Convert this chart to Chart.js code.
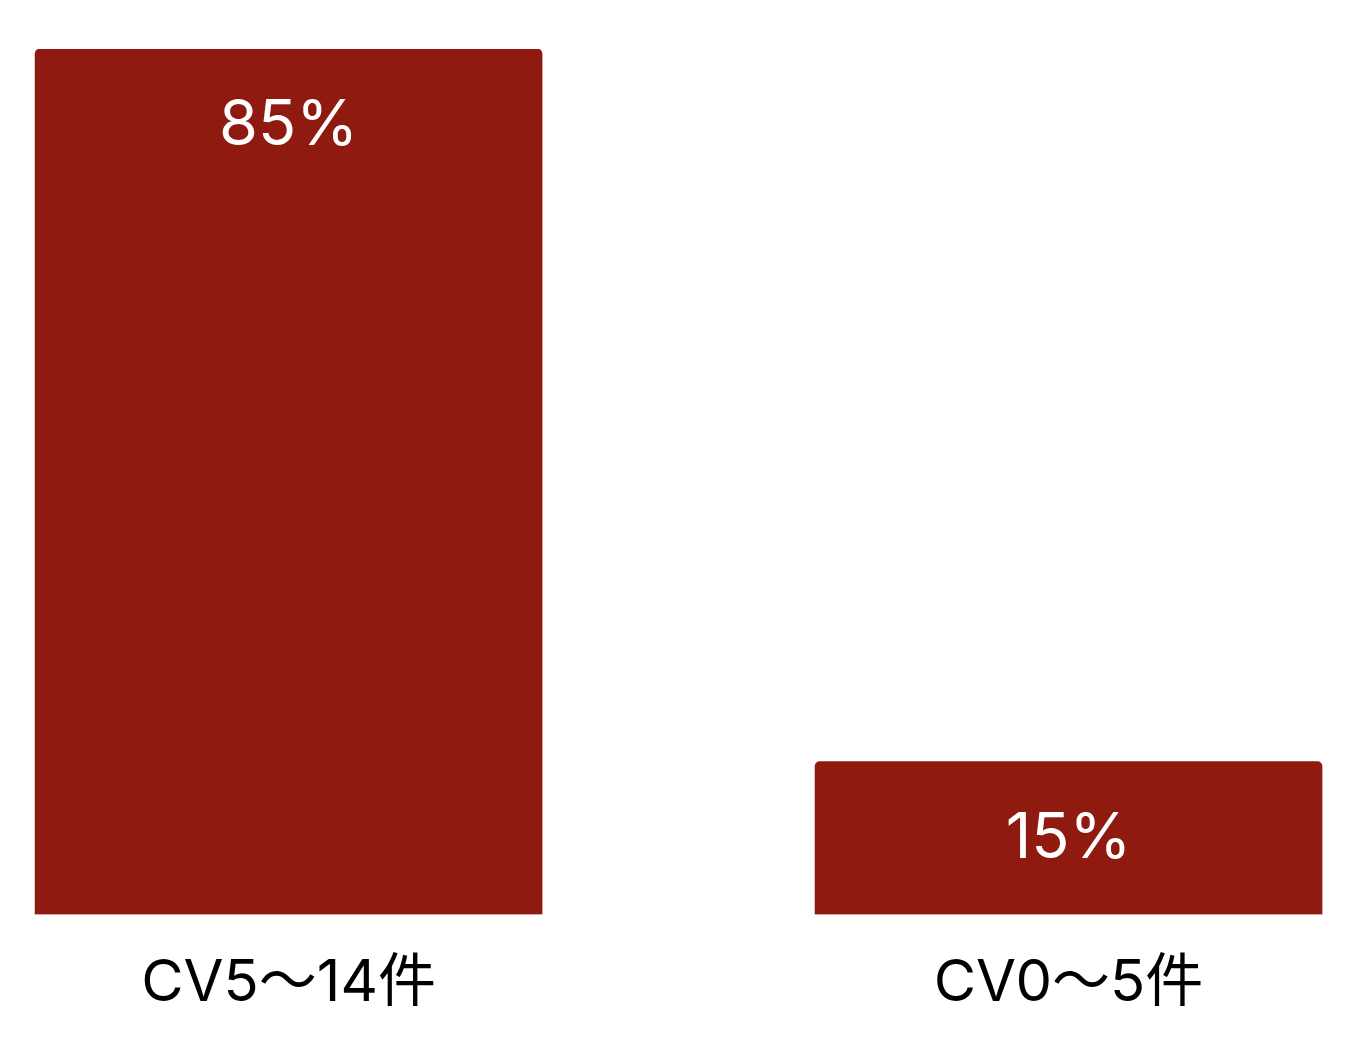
<!DOCTYPE html>
<html>
<head>
<meta charset="utf-8">
<script src="https://cdn.jsdelivr.net/npm/chart.js@4"></script>
<style>
html,body{margin:0;padding:0;background:#fff;overflow:hidden;}
#wrap{width:1354px;height:1060px;position:relative;}
</style>
</head>
<body>
<div id="wrap"><canvas id="c"></canvas></div>
<script>
const categories = ['CV5〜14件', 'CV0〜5件'];
const values = [85, 15];
const valueLabels = ['85%', '15%'];

const barColor = '#8e1a10';

const labelPlugin = {
  id: 'barLabels',
  afterDatasetsDraw(chart) {
    const ctx = chart.ctx;
    const meta = chart.getDatasetMeta(0);
    ctx.save();
    ctx.fillStyle = '#ffffff';
    ctx.font = '63px Inter';
    ctx.textAlign = 'center';
    ctx.textBaseline = 'alphabetic';
    meta.data.forEach((bar, i) => {
      ctx.fillText(valueLabels[i], bar.x, bar.y + 96);
    });
    ctx.restore();
  }
};

new Chart(document.getElementById('c'), {
  type: 'bar',
  data: {
    datasets: [{
      data: values.map((v, i) => ({x: i, y: v})),
      backgroundColor: barColor,
      barThickness: 507,
      borderRadius: {topLeft: 5, topRight: 5, bottomLeft: 0, bottomRight: 0},
      borderSkipped: false
    }]
  },
  options: {
    responsive: true,
    maintainAspectRatio: false,
    animation: false,
    layout: {padding: {top: 49, left: 0, right: 0, bottom: 8}},
    plugins: {legend: {display: false}, tooltip: {enabled: false}},
    scales: {
      x: {
        type: 'linear',
        offset: false,
        min: -0.370,
        max: 1.366,
        grid: {display: false, drawTicks: false, offset: false},
        border: {display: false},
        afterBuildTicks(scale) { scale.ticks = categories.map((_, i) => ({value: i})); },
        ticks: {
          color: '#000000',
          padding: 34,
          font: {family: "Inter, 'Noto Sans CJK JP'", size: 58},
          callback: (v) => categories[v]
        }
      },
      y: {
        display: false,
        min: 0,
        max: 85
      }
    }
  },
  plugins: [labelPlugin]
});
</script>
</body>
</html>
